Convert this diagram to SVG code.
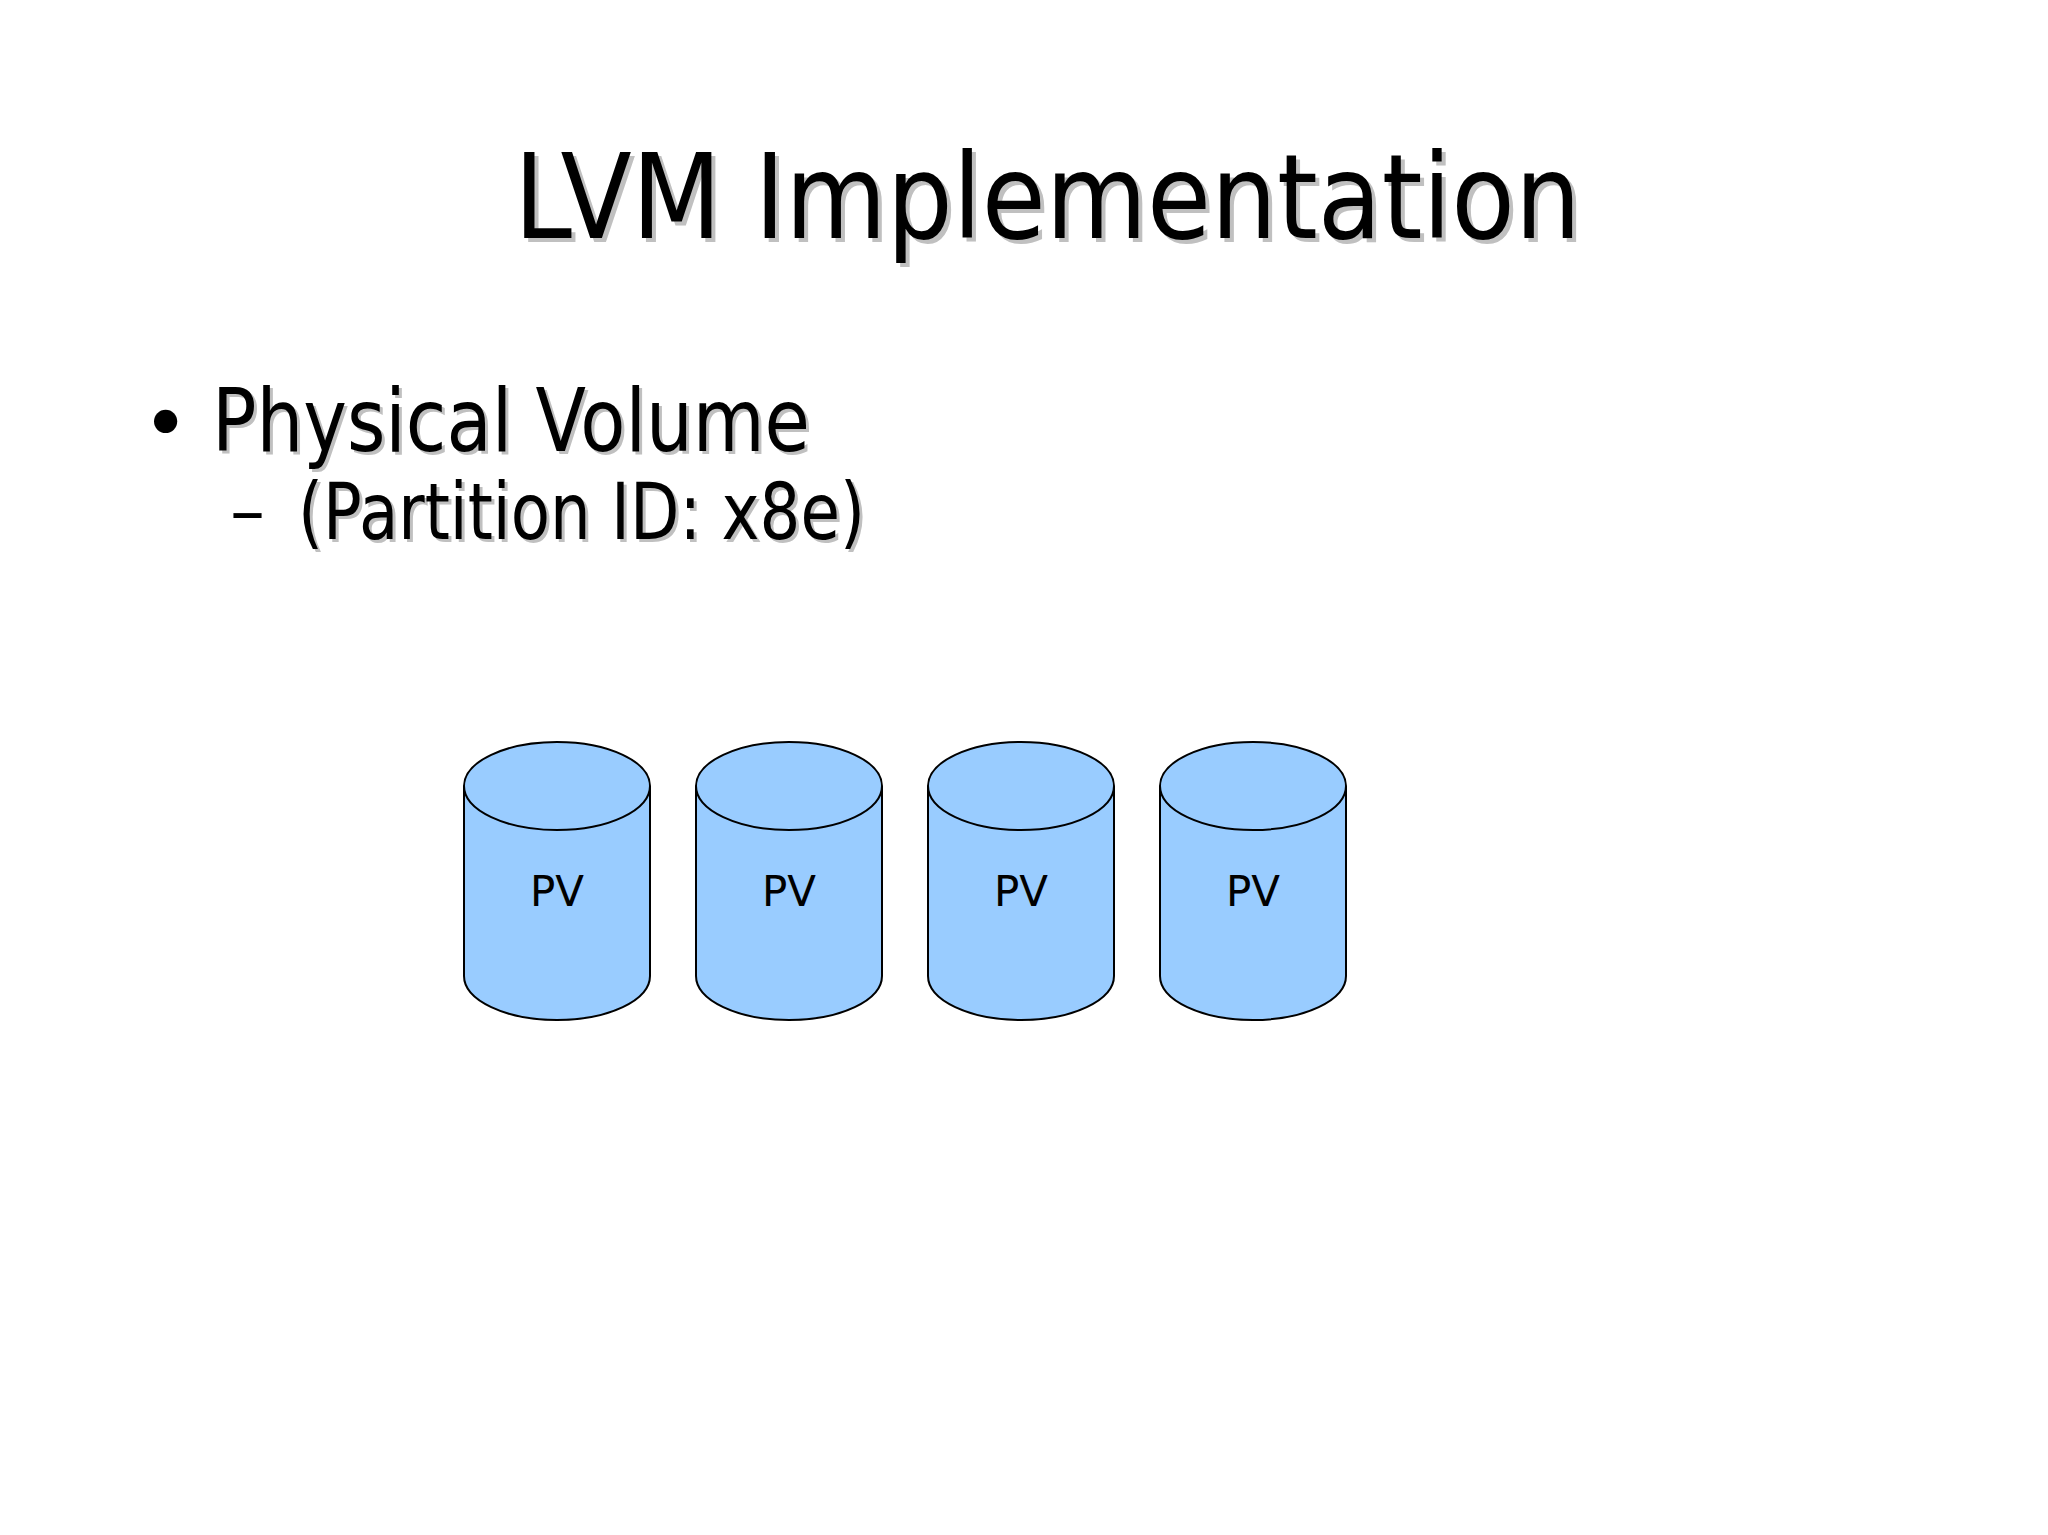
<svg xmlns="http://www.w3.org/2000/svg" width="2048" height="1535" viewBox="0 0 2048 1535">
<style>
.t{font-family:"DejaVu Sans","Liberation Sans",sans-serif;fill:#000}
.s{font-family:"DejaVu Sans","Liberation Sans",sans-serif;fill:#c0c0c0}
.cyl{fill:#99ccff;stroke:#000;stroke-width:2}
.pv{font-family:"DejaVu Sans","Liberation Sans",sans-serif;font-size:42px;fill:#000;text-anchor:middle}
</style>
<rect width="2048" height="1535" fill="#fff"/>
<g id="title">
<text class="s" x="518" y="242" font-size="118" textLength="1067" lengthAdjust="spacingAndGlyphs">LVM Implementation</text>
<text class="t" x="514" y="238" font-size="118" textLength="1067" lengthAdjust="spacingAndGlyphs">LVM Implementation</text>
</g>
<g id="bullets">
<text class="t" x="142" y="451" font-size="80">•</text>
<text class="s" x="215" y="454" font-size="88" textLength="598" lengthAdjust="spacingAndGlyphs">Physical Volume</text>
<text class="t" x="212" y="451" font-size="88" textLength="598" lengthAdjust="spacingAndGlyphs">Physical Volume</text>
<text class="t" x="230" y="535" font-size="70">–</text>
<text class="s" x="301" y="542" font-size="78" textLength="567" lengthAdjust="spacingAndGlyphs">(Partition ID: x8e)</text>
<text class="t" x="298" y="539" font-size="78" textLength="567" lengthAdjust="spacingAndGlyphs">(Partition ID: x8e)</text>
</g>
<g id="pv1" transform="translate(557,0)">
<path class="cyl" d="M-93,786 A93,44 0 0 1 93,786 L93,976 A93,44 0 0 1 -93,976 Z"/>
<path class="cyl" fill="none" d="M-93,786 A93,44 0 0 0 93,786"/>
<text class="pv" x="0" y="906">PV</text>
</g>
<g id="pv2" transform="translate(789,0)">
<path class="cyl" d="M-93,786 A93,44 0 0 1 93,786 L93,976 A93,44 0 0 1 -93,976 Z"/>
<path class="cyl" fill="none" d="M-93,786 A93,44 0 0 0 93,786"/>
<text class="pv" x="0" y="906">PV</text>
</g>
<g id="pv3" transform="translate(1021,0)">
<path class="cyl" d="M-93,786 A93,44 0 0 1 93,786 L93,976 A93,44 0 0 1 -93,976 Z"/>
<path class="cyl" fill="none" d="M-93,786 A93,44 0 0 0 93,786"/>
<text class="pv" x="0" y="906">PV</text>
</g>
<g id="pv4" transform="translate(1253,0)">
<path class="cyl" d="M-93,786 A93,44 0 0 1 93,786 L93,976 A93,44 0 0 1 -93,976 Z"/>
<path class="cyl" fill="none" d="M-93,786 A93,44 0 0 0 93,786"/>
<text class="pv" x="0" y="906">PV</text>
</g>
<g id="connectors"/>
</svg>
